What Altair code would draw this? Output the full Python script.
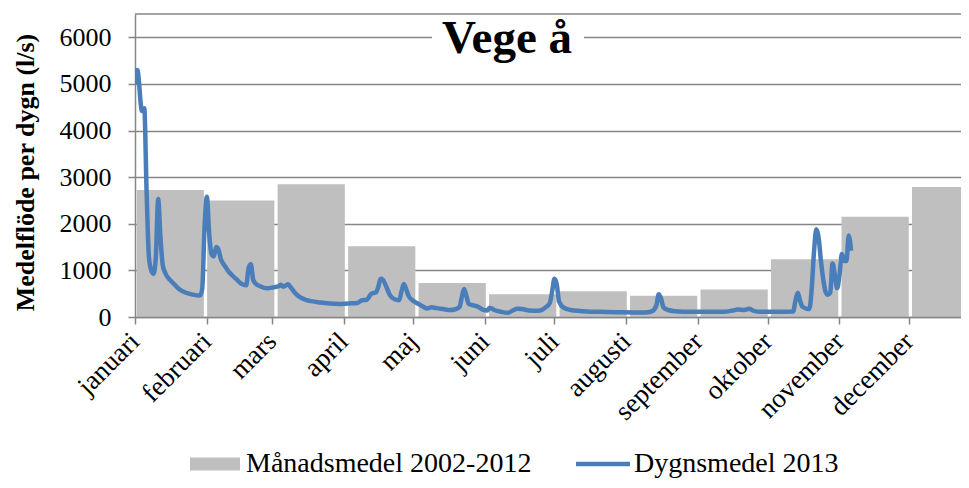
import altair as alt
import pandas as pd

# ---------------- data ----------------
months = ["januari", "februari", "mars", "april", "maj", "juni", "juli",
          "augusti", "september", "oktober", "november", "december"]
month_start_day = [0, 31, 59, 90, 120, 151, 181, 212, 243, 273, 304, 334]
monthly_mean = [2725, 2500, 2850, 1520, 730, 490, 555, 455, 590, 1240, 2150, 2790]

day = [0, 1, 3, 4, 5, 6, 7, 8, 9, 10, 11, 12, 13, 15, 17, 19, 22, 25, 28, 29, 30, 31,
       32, 33, 34, 35, 36, 37, 38, 39, 40, 42, 44, 46, 48, 49, 50, 51, 52, 54, 57, 60,
       62, 63, 64, 66, 67, 69, 71, 73, 76, 80, 84, 88, 92, 96, 98, 100, 102, 104, 105,
       106, 107, 108, 110, 112, 114, 115, 116, 117, 118, 120, 122, 124, 126, 128, 130,
       133, 136, 138, 140, 141, 142, 143, 144, 146, 148, 150, 152, 153, 155, 158, 161,
       163, 165, 167, 170, 174, 177, 179, 180, 181, 182, 183, 185, 188, 192, 200, 210,
       220, 223, 225, 226, 227, 228, 230, 233, 240, 247, 254, 258, 260, 263, 265, 267,
       270, 276, 284, 285, 286, 287, 288, 291, 292, 293, 294, 295, 296, 297, 298, 299,
       300, 301, 302, 303, 304, 305, 306, 307, 308, 309]
flow = [5000, 5300, 4420, 4480, 2700, 1300, 1000, 930, 1300, 2530, 1700, 1100, 950, 800,
        700, 600, 520, 480, 460, 600, 1900, 2580,
        1800, 1350, 1300, 1500, 1450, 1250, 1150, 1080, 1000, 890, 800, 710, 680, 1050,
        1130, 800, 720, 660, 615, 640,
        660, 690, 650, 700, 650, 520, 430, 380, 340, 310, 290, 280, 290, 300, 360, 370,
        500, 530, 650,
        820, 800, 700, 470, 380, 360, 550, 710, 600, 460, 350, 290, 230, 185, 210, 190,
        170, 150, 160, 210, 420, 600, 450, 280, 250, 220, 160, 140, 200, 150, 110, 90,
        140, 175, 170, 140, 135, 200, 300, 550, 820, 700, 330, 200, 150, 130, 110, 100,
        95, 120, 250, 490, 400, 210, 150, 125, 110, 110, 110, 140, 160, 150, 175, 130,
        110, 110, 120, 350, 520, 350, 220, 170, 600, 1400, 1880, 1700, 1200, 800, 540,
        480, 520, 1150, 900, 620, 900, 1350, 1200, 1200, 1750, 1420]

series_names = ["Månadsmedel 2002-2012", "Dygnsmedel 2013"]
chart_title = "Vege å"
y_title = "Medelflöde per dygn (l/s)"
y_ticks = [0, 1000, 2000, 3000, 4000, 5000, 6000]

# ---------------- styles ----------------
FONT = "Liberation Serif"
GRID = "#868686"
BAR = "#BFBFBF"
BLUE = "#4A7EBB"
RECT_PATH = "M-0.926,-0.24L0.926,-0.24L0.926,0.24L-0.926,0.24Z"
LINE_PATH = "M-1,-0.08L1,-0.08L1,0.08L-1,0.08Z"

slot = 365 / 12
bars_df = pd.DataFrame({
    "month": months,
    "value": monthly_mean,
    "start": [i * slot + 0.7 for i in range(12)],
    "end": [(i + 1) * slot - 0.7 for i in range(12)],
})
line_df = pd.DataFrame({"day": day, "flow": flow})
legend_df = pd.DataFrame({"series": series_names, "day": [-50, -50], "flow": [0, 0]})
one_row = pd.DataFrame({"k": [0]})

PLOT_W = 826
PX_PER_DAY = 2.3174
x_scale = alt.Scale(domain=[0, PLOT_W / PX_PER_DAY], nice=False, zero=False)
y_scale = alt.Scale(domain=[0, 6500], nice=False)

label_expr = ("[" + ",".join(f"'{m}'" for m in months) + "][indexof(["
              + ",".join(str(d) for d in month_start_day) + "], datum.value)]")

x_axis = alt.Axis(values=month_start_day, labelExpr=label_expr, labelAngle=-45,
                  labelAlign="right", labelBaseline="middle", labelFontSize=27,
                  labelPadding=13, labelFlush=False, labelOverlap=False,
                  tickSize=7, grid=False, title=None, domainColor=GRID,
                  tickColor=GRID, domainWidth=1.5, tickWidth=1.5,
                  labelColor="black", labelFont=FONT, zindex=1)
y_axis = alt.Axis(values=y_ticks, format="d", title=y_title, titleFont=FONT,
                  titleFontSize=26, titleFontWeight="bold", titleColor="black",
                  titleAngle=-90, titleX=-102, titleY=158, titleAlign="center",
                  titleBaseline="alphabetic", labelFont=FONT, labelFontSize=26,
                  labelColor="black", labelPadding=17, tickSize=7, tickColor=GRID,
                  domainColor=GRID, gridColor=GRID, gridWidth=1.5, domainWidth=1.5,
                  tickWidth=1.5)

bars = alt.Chart(bars_df).mark_rect(color=BAR, clip=True).encode(
    x=alt.X("start:Q", scale=x_scale, axis=x_axis),
    x2="end:Q",
    y=alt.Y("value:Q", scale=y_scale, axis=y_axis),
    y2=alt.datum(0),
)

line = alt.Chart(line_df).mark_line(color=BLUE, strokeWidth=4.5, interpolate="monotone",
                                    clip=True).encode(
    x=alt.X("day:Q", scale=x_scale),
    y=alt.Y("flow:Q", scale=y_scale),
)

leg = alt.Legend(title=None, orient="none", legendX=53, legendY=423,
                 direction="horizontal", columns=2, padding=0, labelFont=FONT,
                 labelFontSize=28, labelColor="black", labelLimit=0,
                 symbolSize=2916, symbolStrokeWidth=0, labelOffset=4,
                 columnPadding=44, symbolOpacity=1)

legend_pts = alt.Chart(legend_df).mark_point(filled=True, size=2916, opacity=1,
                                             clip=True).encode(
    x=alt.X("day:Q", scale=x_scale),
    y=alt.Y("flow:Q", scale=y_scale),
    color=alt.Color("series:N", scale=alt.Scale(domain=series_names, range=[BAR, BLUE]),
                    legend=leg),
    shape=alt.Shape("series:N", scale=alt.Scale(domain=series_names,
                                                range=[RECT_PATH, LINE_PATH]),
                    legend=leg),
)

title_bg = alt.Chart(one_row).mark_rect(color="white").encode(
    x=alt.value(297), x2=alt.value(449), y=alt.value(1), y2=alt.value(50))

top_border = alt.Chart(one_row).mark_rule(color=GRID, strokeWidth=1.5).encode(
    y=alt.datum(6500, scale=y_scale))

title_txt = alt.Chart(one_row).mark_text(text=chart_title, font=FONT, fontSize=47,
                                         fontWeight="bold", align="center",
                                         baseline="alphabetic", color="black").encode(
    x=alt.value(372), y=alt.value(39))

chart = alt.layer(bars, line, legend_pts, title_bg, top_border, title_txt).properties(
    width=PLOT_W, height=303,
    padding={"left": 127, "top": 6, "right": 0, "bottom": 163},
    autosize=alt.AutoSizeParams(type="none"),
).configure_view(stroke=None)

chart.save("out.html", embed_options={"renderer": "svg", "actions": False})
